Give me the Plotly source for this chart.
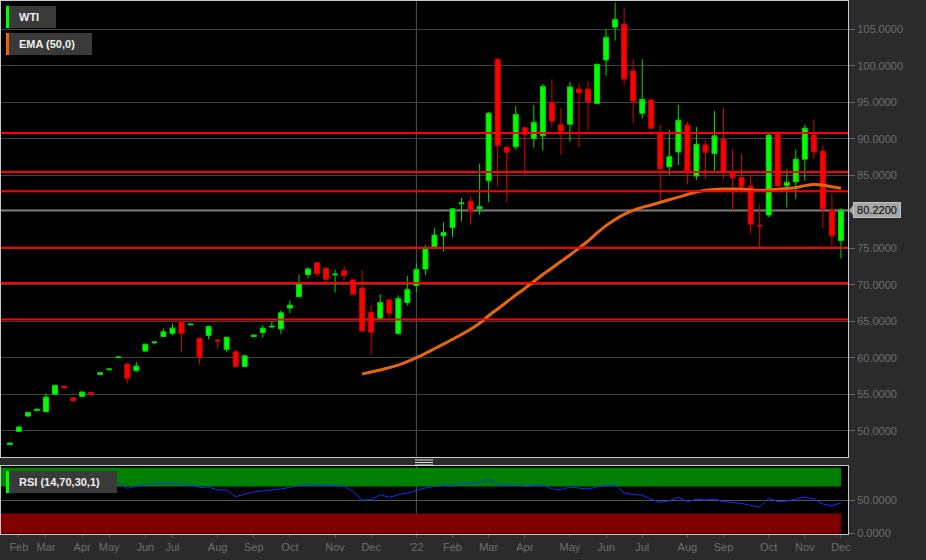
import pandas as pd
import plotly.graph_objects as go

# ---------------- data ----------------
# weekly candles (week ending Friday); a few weeks are absent in the source
WEEKS_START = "2021-01-29"
WEEKS_END = "2022-12-02"
MISSING_WEEKS = ["2021-02-26", "2021-04-23", "2021-04-30", "2021-06-25"]

OPEN = [48.1, 49.9, 52.0, 52.75, 52.6, 55.0, 56.1, 54.5, 54.7, 55.25,
        57.7, 58.35, 60.0, 59.1, 58.2, 60.9, 62.05, 62.9, 63.35, 64.85,
        64.5, 62.65, 63.05, 62.4, 61.15, 60.8, 58.8, 62.9, 63.45, 64.2,
        63.95, 66.8, 68.35, 71.4, 73.0, 72.25, 71.35, 71.9, 70.65, 69.55,
        66.2, 65.4, 67.9, 63.3, 67.55, 69.9, 72.15, 75.2, 76.7, 77.85,
        81.1, 81.4, 80.4, 84.25, 100.9, 88.85, 88.9, 91.5, 90.05, 90.4,
        94.95, 91.9, 92.0, 96.8, 96.8, 94.85, 100.8, 105.3, 105.7, 99.3,
        93.5, 95.3, 90.75, 86.15, 88.2, 91.9, 84.9, 89.15, 88.0, 89.95,
        85.5, 84.7, 83.5, 78.15, 79.55, 90.8, 83.55, 84.1, 87.2, 90.5,
        88.3, 80.25, 76.05]
HIGH = [48.4, 50.6, 52.55, 53.0, 55.1, 56.3, 56.15, 54.55, 55.35, 55.3,
        58.0, 58.5, 60.15, 59.3, 59.4, 61.9, 62.2, 64.0, 64.7, 64.95,
        64.65, 62.7, 64.35, 62.65, 62.85, 61.05, 60.3, 63.15, 64.45, 64.95,
        66.5, 67.85, 71.4, 72.4, 73.15, 72.55, 72.1, 72.6, 70.75, 72.0,
        67.2, 68.7, 68.0, 68.55, 71.2, 72.95, 75.45, 77.75, 78.55, 80.5,
        81.9, 82.15, 86.6, 93.7, 100.95, 88.9, 94.5, 91.6, 94.6, 97.5,
        98.15, 94.2, 97.8, 97.6, 97.9, 100.3, 105.0, 108.65, 108.0, 100.9,
        100.9, 95.5, 91.9, 91.2, 94.65, 92.35, 91.6, 89.85, 93.8, 94.2,
        88.55, 87.9, 85.05, 81.0, 90.75, 91.05, 85.8, 88.55, 91.9, 92.65,
        89.05, 82.4, 80.45]
LOW = [48.0, 49.8, 51.9, 52.7, 52.5, 54.95, 55.8, 54.0, 54.65, 54.95,
       57.65, 58.3, 59.95, 56.5, 58.15, 60.85, 61.85, 62.85, 63.1, 60.7,
       64.45, 59.1, 62.5, 61.3, 60.8, 58.7, 58.7, 62.75, 62.75, 64.1,
       63.2, 66.1, 68.3, 70.9, 71.1, 70.3, 68.95, 70.65, 68.6, 63.6,
       60.4, 65.3, 65.55, 63.2, 67.15, 69.05, 71.3, 74.85, 74.55, 76.5,
       78.65, 78.2, 79.55, 81.3, 83.45, 81.3, 88.5, 84.8, 88.8, 88.4,
       91.55, 87.8, 89.6, 88.85, 91.2, 94.8, 98.65, 103.45, 97.35, 92.2,
       92.75, 91.3, 81.6, 85.05, 86.4, 83.75, 84.35, 84.45, 85.6, 84.45,
       80.1, 82.5, 77.05, 75.2, 79.25, 83.4, 80.6, 81.7, 84.25, 87.3,
       77.75, 75.35, 73.6]
CLOSE = [48.3, 50.5, 52.5, 52.95, 54.6, 56.2, 55.85, 54.1, 55.3, 55.0,
         57.95, 58.45, 60.1, 57.2, 58.85, 61.85, 62.15, 63.55, 64.05, 63.35,
         64.6, 60.05, 64.3, 62.3, 62.8, 58.8, 60.25, 63.1, 64.05, 64.3,
         66.15, 67.2, 70.15, 72.15, 71.5, 70.75, 71.45, 71.25, 68.7, 63.65,
         63.5, 67.55, 66.1, 68.1, 69.35, 72.1, 74.9, 76.8, 77.15, 80.4,
         81.2, 80.15, 80.7, 93.5, 89.05, 88.15, 93.35, 90.6, 92.25, 97.15,
         92.45, 91.05, 97.1, 96.3, 95.1, 100.2, 103.9, 106.35, 98.2, 95.15,
         95.4, 91.45, 85.9, 87.55, 92.55, 85.6, 89.25, 88.15, 90.4, 85.5,
         84.65, 83.45, 78.3, 78.05, 90.5, 83.55, 84.05, 87.2, 91.45, 88.2,
         80.4, 76.7, 80.22]

EMA_50 = [None] * 39 + [
    57.77, 58.04, 58.32, 58.64, 58.98, 59.45, 60.00, 60.60, 61.22, 61.86,
    62.52, 63.18, 63.90, 64.72, 65.75, 66.68, 67.63, 68.59, 69.48, 70.44,
    71.40, 72.29, 73.18, 74.07, 75.03, 75.99, 77.09, 78.10, 78.95, 79.65,
    80.20, 80.60, 80.92, 81.30, 81.65, 82.00, 82.36, 82.71, 82.95, 83.05,
    83.10, 83.12, 83.10, 82.98, 82.92, 82.98, 83.10, 83.19, 83.32, 83.58,
    83.74, 83.66, 83.42, 83.21]

RSI_14 = [60, 62, 66, 67, 72, 75, 73, 70, 72, 71,
          74, 74, 75.8, 67.5, 70.5, 73.5, 74.5, 74.9, 74.5, 73.8,
          73.4, 68.4, 69.5, 64.9, 64.9, 55, 58, 62, 63.5, 64.8,
          66.5, 68.9, 71.5, 73.8, 72.3, 71.5, 71.2, 70.8, 62.5, 50,
          50.5, 57.9, 54, 57.9, 60.5, 64, 68, 70, 71.5, 73.5,
          74.5, 74.5, 75.5, 81.3, 73.4, 71.5, 74, 70.2, 71.5, 73,
          66.4, 65.4, 69.4, 68, 66.4, 69.5, 72, 73, 60.5, 58,
          57.5, 51, 46.6, 49, 54, 47.5, 51, 50, 51.5, 47.5,
          46, 45, 42, 39.5, 53, 47.5, 48.3, 51.5, 54.5, 51.5,
          44, 41.5, 45.5]

LEVELS = [90.8, 85.45, 82.8, 75.05, 70.25, 65.25]   # horizontal support/resistance
RSI_UPPER, RSI_LOWER = 70, 30

TICK_LABELS = ["Feb", "Mar", "Apr", "May", "Jun", "Jul", "Aug", "Sep", "Oct", "Nov", "Dec",
               "'22", "Feb", "Mar", "Apr", "May", "Jun", "Jul", "Aug", "Sep", "Oct", "Nov", "Dec"]

# ---------------- categories / ticks ----------------
fridays = pd.date_range(WEEKS_START, WEEKS_END, freq="W-FRI")
DATES = [d.strftime("%Y-%m-%d") for d in fridays if d.strftime("%Y-%m-%d") not in MISSING_WEEKS]
month_first = {}
for d in DATES:
    month_first.setdefault(d[:7], d)
TICK_VALS = [v for k, v in month_first.items() if k != "2021-01"]
year_idx = DATES.index(month_first["2022-01"])

# ---------------- geometry helpers (pixel -> paper) ----------------
W, H = 926, 560
ML, MR, MT, MB = 1, 78, 1, 26
PW, PH = W - ML - MR, H - MT - MB


def px(x):
    return (x - ML) / PW


def py(y):
    return (H - MB - y) / PH


FONT = "Liberation Sans, Arial, sans-serif"
BORDER = "#c8c8d2"
GRID = "#404040"

fig = go.Figure()
fig.add_trace(go.Candlestick(
    x=DATES, open=OPEN, high=HIGH, low=LOW, close=CLOSE,
    xaxis="x", yaxis="y",
    increasing=dict(line=dict(color="#00dd00", width=1), fillcolor="#00ff00"),
    decreasing=dict(line=dict(color="#e00000", width=1), fillcolor="#ff0000"),
    hoverinfo="skip",
))
fig.add_trace(go.Scatter(
    x=DATES, y=EMA_50, mode="lines", xaxis="x", yaxis="y",
    line=dict(color="#e8650f", width=3, shape="spline", smoothing=0.6), hoverinfo="skip",
))
fig.add_trace(go.Scatter(
    x=DATES, y=RSI_14, mode="lines", xaxis="x2", yaxis="y2",
    line=dict(color="#1530ff", width=1), hoverinfo="skip",
))

xr = [-0.98, len(DATES) - 1 + 0.78]
shapes = []
# year separator
for yr in ["y domain", "y2 domain"]:
    shapes.append(dict(type="line", xref="x" if yr == "y domain" else "x2", yref=yr,
                       x0=year_idx, x1=year_idx, y0=0, y1=1,
                       line=dict(color="#555555", width=1), layer="below"))
# last price line
shapes.append(dict(type="line", xref="paper", yref="y", x0=0, x1=1, y0=CLOSE[-1], y1=CLOSE[-1],
                   line=dict(color="#c0c0c0", width=1), layer="below"))
# support / resistance lines
for lv in LEVELS:
    shapes.append(dict(type="line", xref="paper", yref="y", x0=0, x1=1, y0=lv, y1=lv,
                       line=dict(color="#ff0000", width=2), layer="above"))
# RSI bands
shapes.append(dict(type="rect", xref="x2 domain", yref="y2", x0=0, x1=px(841), y0=RSI_UPPER, y1=98,
                   fillcolor="#008000", line=dict(width=0), layer="below"))
shapes.append(dict(type="rect", xref="x2 domain", yref="y2", x0=0, x1=px(841), y0=0, y1=RSI_LOWER,
                   fillcolor="#800000", line=dict(width=0), layer="below"))
# legend boxes
for (x0, x1, y0, y1, bar) in [(9, 56, 6, 28, "#00ff00"), (9, 92, 33, 55, "#e8620c"),
                              (9, 117, 471, 493, "#00ff00")]:
    shapes.append(dict(type="rect", xref="paper", yref="paper", x0=px(x0), x1=px(x1),
                       y0=py(y1), y1=py(y0), fillcolor="#3a3a3a", line=dict(width=0), layer="above"))
    shapes.append(dict(type="rect", xref="paper", yref="paper", x0=px(6), x1=px(9),
                       y0=py(y1), y1=py(y0), fillcolor=bar, line=dict(width=0), layer="above"))
# splitter handle
for yy in [460, 462.5, 465]:
    shapes.append(dict(type="line", xref="paper", yref="paper", x0=px(415), x1=px(433),
                       y0=py(yy), y1=py(yy), line=dict(color="#e0e0e0", width=1)))
# price tag arrow
shapes.append(dict(type="path", xref="paper", yref="y",
                   path=f"M {px(849)},{CLOSE[-1]} L {px(853.5)},{CLOSE[-1] + 0.75} L {px(853.5)},{CLOSE[-1] - 0.75} Z",
                   fillcolor="#a6a6a6", line=dict(width=0)))

annotations = []
for (txt, yc) in [("WTI", 17), ("EMA (50,0)", 44), ("RSI (14,70,30,1)", 482)]:
    annotations.append(dict(xref="paper", yref="paper", x=px(17), y=py(yc), xanchor="left",
                            yanchor="middle", text=f"<b>{txt}</b>", showarrow=False,
                            font=dict(family=FONT, size=11, color="#f0f0f0")))
annotations.append(dict(xref="paper", yref="y", x=px(853), y=CLOSE[-1], xanchor="left",
                        yanchor="middle", text=f"{CLOSE[-1]:.4f}", showarrow=False,
                        bgcolor="#a6a6a6", bordercolor="#c4c4c4", borderwidth=1, borderpad=1,
                        width=44, height=12,
                        font=dict(family=FONT, size=11, color="#000000")))

fig.update_layout(
    width=W, height=H, autosize=False,
    margin=dict(l=ML, r=MR, t=MT, b=MB),
    paper_bgcolor="#2b2b2b", plot_bgcolor="#000000",
    showlegend=False, boxgap=0.22,
    font=dict(family=FONT, size=11, color="#707070"),
    xaxis=dict(domain=[0, 1], anchor="y", type="category", range=xr, matches="x2",
               showticklabels=False, showgrid=False, ticks="",
               showline=True, mirror=True, linecolor=BORDER, linewidth=1,
               rangeslider=dict(visible=False)),
    yaxis=dict(domain=[py(457), 1], anchor="x", side="right", range=[46.39, 108.88],
               tick0=0, dtick=5, tickformat=".4f", showgrid=True, gridcolor=GRID, gridwidth=1,
               ticks="outside", ticklen=6, tickcolor="#666666",
               tickfont=dict(family=FONT, size=11, color="#6e6e6e"),
               showline=True, mirror=True, linecolor=BORDER, linewidth=1, zeroline=False),
    xaxis2=dict(domain=[0, 1], anchor="y2", type="category", range=xr,
                tickmode="array", tickvals=TICK_VALS, ticktext=TICK_LABELS, tickangle=0,
                showgrid=False, ticks="outside", ticklen=3, tickcolor="#555555",
                tickfont=dict(family=FONT, size=11, color="#6e6e6e"),
                showline=True, mirror=True, linecolor=BORDER, linewidth=1),
    yaxis2=dict(domain=[0, py(466)], anchor="x2", side="right", range=[-0.75, 100.75],
                tickvals=[0, 50], tickformat=".4f", showgrid=True, gridcolor="#555555",
                ticks="outside", ticklen=6, tickcolor="#666666",
                tickfont=dict(family=FONT, size=11, color="#6e6e6e"),
                showline=True, mirror=True, linecolor=BORDER, linewidth=1, zeroline=False),
    shapes=shapes, annotations=annotations,
)

fig.write_html("out.html", config={"displayModeBar": False},
               post_script="document.body.style.margin='0';")
